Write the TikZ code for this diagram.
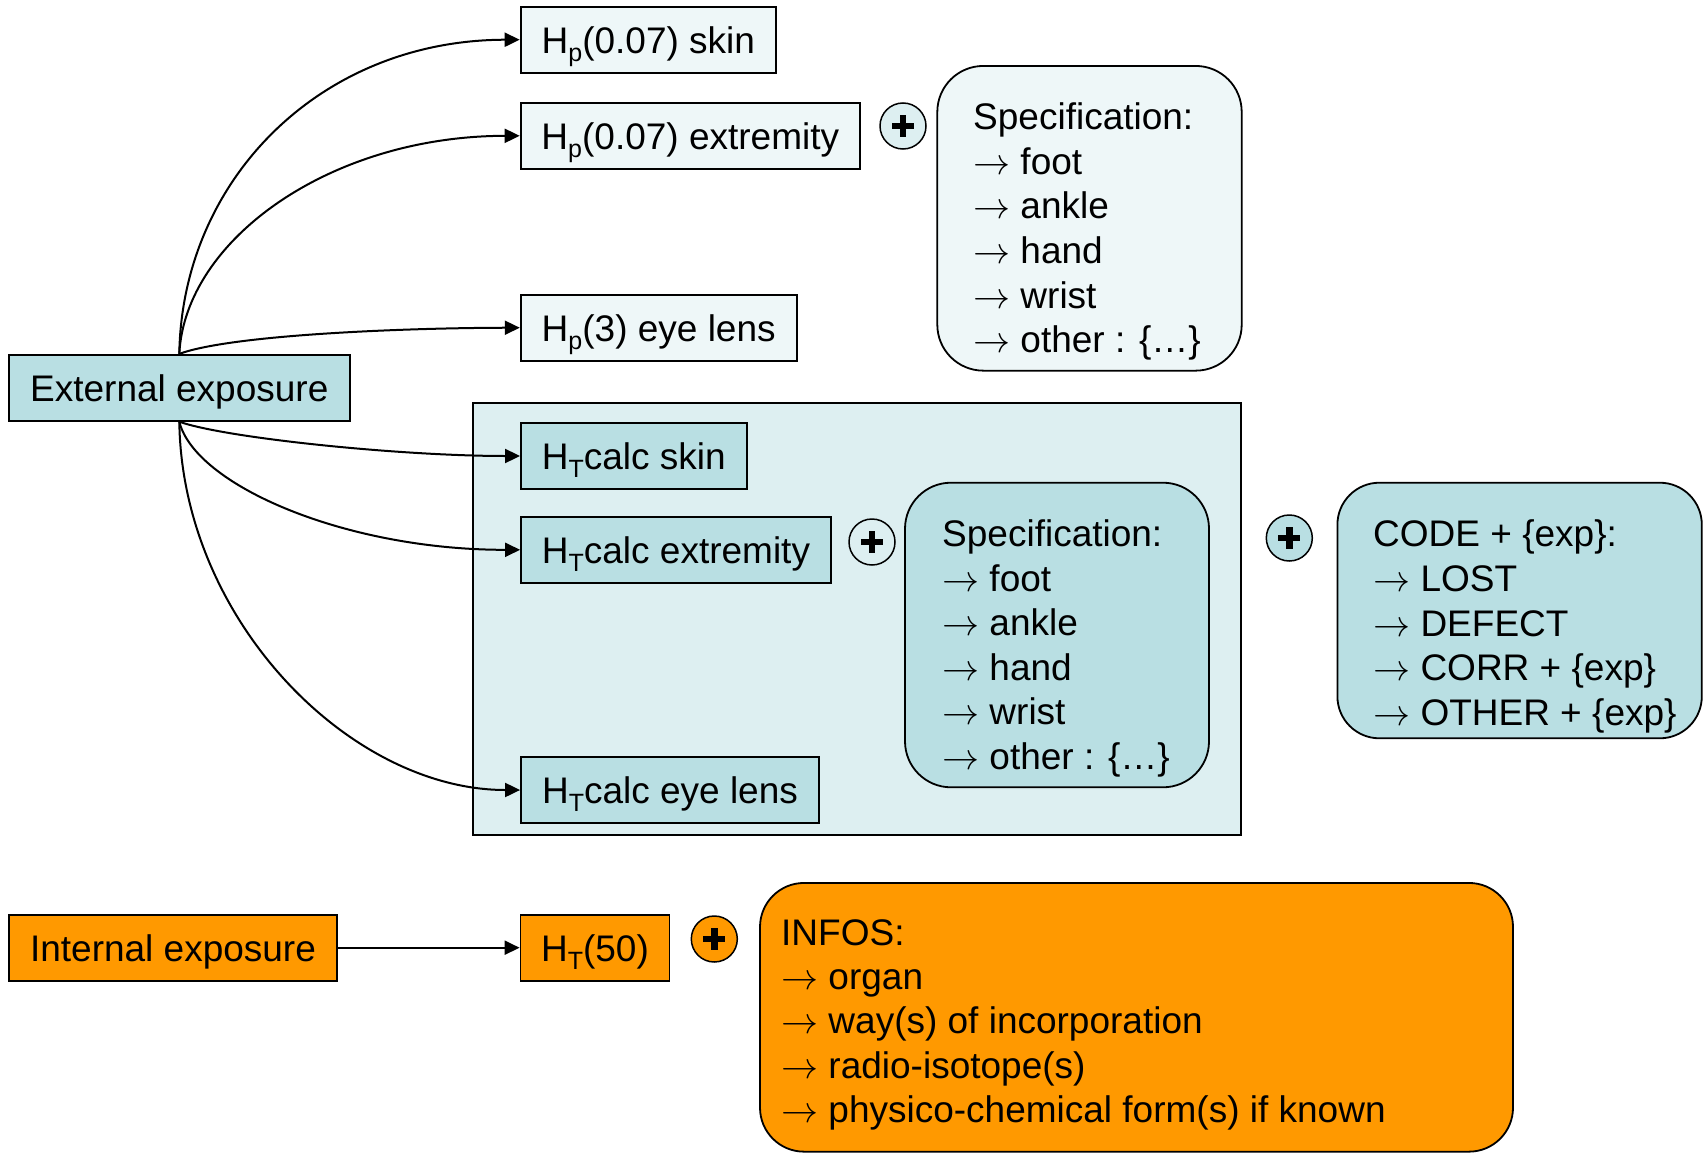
\RequirePackage{fix-cm}
\documentclass[tikz,border=0pt]{standalone}
\usepackage{fontspec}
\setmainfont{Liberation Sans}
\usetikzlibrary{arrows.meta}

\definecolor{paleblue}{HTML}{EEF7F8}
\definecolor{midblue}{HTML}{B9DFE3}
\definecolor{panelblue}{HTML}{DDEFF1}
\definecolor{doseorange}{HTML}{FF9900}

% lowered index as used in H_p, H_T
\newcommand{\idx}[1]{\raisebox{-8pt}{\fontsize{25pt}{25pt}\selectfont #1}}
% list bullet arrow
\newcommand{\itemarrow}{\ensuremath{\rightarrow}}

\begin{document}
\begin{tikzpicture}[x=1pt,y=-1pt,
  txt/.style={font=\fontsize{37pt}{44.5pt}\selectfont},
  quantity/.style={txt, draw, line width=1.8pt, rectangle, inner sep=0pt,
    text height=27pt, text depth=0pt, minimum height=66pt},
  listbox/.style={draw, line width=1.8pt, inner sep=0pt},
  listtext/.style={txt, inner sep=0pt, anchor=base west},
  conn/.style={line width=2pt, -{Triangle[length=15pt,width=14pt]}},
  plussign/.style={circle, draw, line width=1.5pt, fill=#1, minimum size=46pt, inner sep=0pt,
    path picture={
      \fill[black] ([xshift=-11pt,yshift=-3.2pt]path picture bounding box.center)
        rectangle ([xshift=11pt,yshift=3.2pt]path picture bounding box.center);
      \fill[black] ([xshift=-3.2pt,yshift=-11pt]path picture bounding box.center)
        rectangle ([xshift=3.2pt,yshift=11pt]path picture bounding box.center);}}
]
\useasboundingbox (0,0) rectangle (1704,1153);

% panel grouping the calculated doses
\node[draw, line width=1.8pt, fill=panelblue, inner sep=0pt,
      minimum width=767.6pt, minimum height=432pt] (panel) at (856.8,619) {};

% external exposure branch
\node[quantity, fill=midblue, minimum width=341.4pt] (ext) at (179.3,387.8) {External exposure};

\node[quantity, fill=paleblue, minimum width=255.4pt] (hpskin) at (648.3,39.7) {H\idx{p}(0.07) skin};
\node[quantity, fill=paleblue, minimum width=339.4pt] (hpext) at (690.3,135.8) {H\idx{p}(0.07) extremity};
\node[quantity, fill=paleblue, minimum width=276pt] (hpeye) at (658.7,327.7) {H\idx{p}(3) eye lens};

\node[quantity, fill=midblue, minimum width=225.7pt] (htskin) at (633.8,456) {H\idx{T}calc skin};
\node[quantity, fill=midblue, minimum width=310pt] (htext) at (676,549.8) {H\idx{T}calc extremity};
\node[quantity, fill=midblue, minimum width=298pt] (hteye) at (670,790) {H\idx{T}calc eye lens};

% specification lists
\node[plussign=panelblue] (plusA) at (903,126) {};
\node[listbox, fill=paleblue, rounded corners=46pt, minimum width=304.4pt, minimum height=304.7pt]
  (spec1) at (1089.5,218.3) {};
\node[listtext] (spec1t) at (973,130) {\parbox[t]{260pt}{\raggedright
  Specification:\\ \itemarrow{} foot\\ \itemarrow{} ankle\\ \itemarrow{} hand\\ \itemarrow{} wrist\\ \itemarrow{} other : \{…\}}};

\node[plussign=panelblue] (plusB) at (872,542) {};
\node[listbox, fill=midblue, rounded corners=46pt, minimum width=304pt, minimum height=304.6pt]
  (spec2) at (1057,635) {};
\node[listtext] (spec2t) at (942,546.5) {\parbox[t]{260pt}{\raggedright
  Specification:\\ \itemarrow{} foot\\ \itemarrow{} ankle\\ \itemarrow{} hand\\ \itemarrow{} wrist\\ \itemarrow{} other : \{…\}}};

\node[plussign=midblue] (plusC) at (1289.3,538) {};
\node[listbox, fill=midblue, rounded corners=42pt, minimum width=364.4pt, minimum height=255.6pt]
  (code) at (1519.6,610.5) {};
\node[listtext, font=\fontsize{37pt}{44.8pt}\selectfont] (codet) at (1373,546.5) {\parbox[t]{320pt}{\raggedright
  CODE + \{exp\}:\\ \itemarrow{} LOST\\ \itemarrow{} DEFECT\\ \itemarrow{} CORR + \{exp\}\\ \itemarrow{} OTHER + \{exp\}}};

% internal exposure branch
\node[quantity, fill=doseorange, minimum width=327.5pt] (internal) at (173,947.7) {Internal exposure};
\node[quantity, fill=doseorange, minimum width=149pt] (htfifty) at (595,947.7) {H\idx{T}(50)};
\node[plussign=doseorange] (plusD) at (714.3,939) {};
\node[listbox, fill=doseorange, rounded corners=44pt, minimum width=753pt, minimum height=268.7pt]
  (infos) at (1136.5,1017.3) {};
\node[listtext, font=\fontsize{37pt}{44.4pt}\selectfont] (infost) at (781,945) {\parbox[t]{700pt}{\raggedright
  INFOS:\\ \itemarrow{} organ\\ \itemarrow{} way(s) of incorporation\\ \itemarrow{} radio-isotope(s)\\ \itemarrow{} physico-chemical form(s) if known}};

% connectors
\draw[conn] (ext.north) .. controls (182,180) and (320,40) .. (hpskin.west);
\draw[conn] (ext.north) .. controls (185,240) and (330,136) .. (hpext.west);
\draw[conn] (ext.north) .. controls (230,335) and (400,328) .. (hpeye.west);
\draw[conn] (ext.south) .. controls (225,438) and (400,456) .. (htskin.west);
\draw[conn] (ext.south) .. controls (195,485) and (345,550) .. (htext.west);
\draw[conn] (ext.south) .. controls (182,620) and (350,790) .. (hteye.west);
\draw[conn] (internal) -- (htfifty);
\end{tikzpicture}
\end{document}
